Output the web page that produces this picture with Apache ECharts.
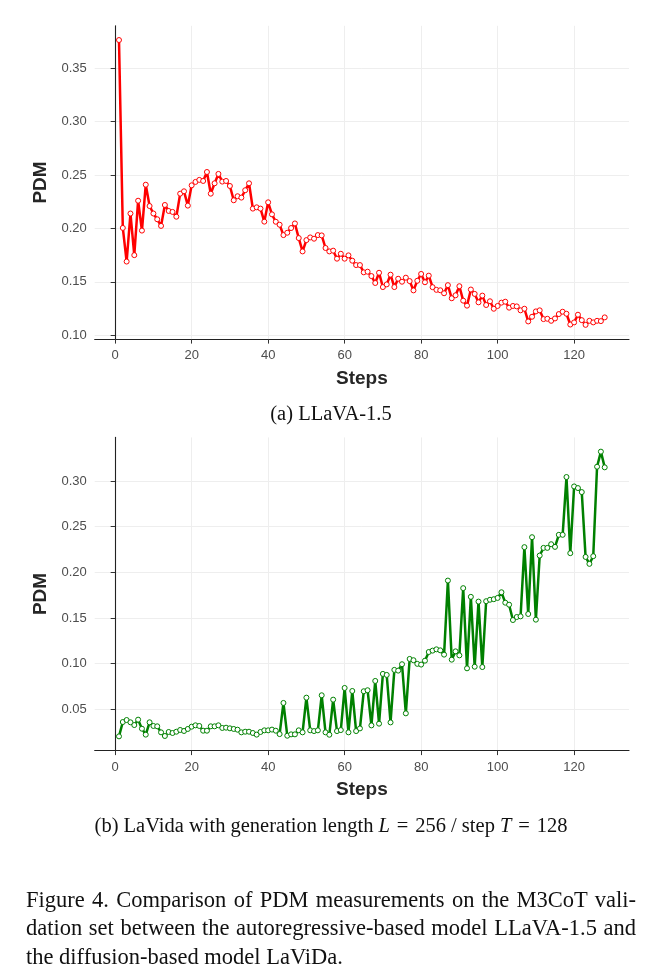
<!DOCTYPE html>
<html>
<head>
<meta charset="utf-8">
<script src="https://cdn.jsdelivr.net/npm/echarts@6/dist/echarts.min.js"></script>
<style>
  body { margin: 0; background: #fff; }
  #wrap { position: relative; width: 657px; height: 980px; }
  #main { position: absolute; left: 0; top: 0; width: 657px; height: 980px; }
  .cap { position: absolute; font-family: "Liberation Serif", "DejaVu Serif", serif; color: #111; white-space: nowrap; }
  .sub { left: 0; width: 662px; text-align: center; font-size: 20.5px; line-height: 20px; }
  .fig { left: 26px; width: 610px; font-size: 22.5px; line-height: 28.3px; }
  .fig div { text-align: justify; text-align-last: justify; }
  .fig div.last { text-align-last: left; }
</style>
</head>
<body>
<div id="wrap">
  <div id="main"></div>
  <div class="cap sub" style="top:403px;">(a) LLaVA-1.5</div>
  <div class="cap sub" style="top:815px;">(b) LaVida with generation length <i>L</i>&#8196;=&#8196;256 / step <i>T</i>&#8196;=&#8196;128</div>
  <div class="cap fig" style="top:886px;">
    <div>Figure 4. Comparison of PDM measurements on the M3CoT vali-</div>
    <div>dation set between the autoregressive-based model LLaVA-1.5 and</div>
    <div class="last">the diffusion-based model LaViDa.</div>
  </div>
</div>
<script>
// PDM per step
const llavaPdm = [
  0.3765, 0.2005, 0.169, 0.214, 0.175, 0.226, 0.198, 0.241, 0.221, 0.214,
  0.2086, 0.2024, 0.222, 0.2164, 0.2155, 0.211, 0.2326, 0.2348, 0.2214, 0.2404,
  0.2436, 0.2455, 0.2445, 0.2529, 0.2326, 0.2423, 0.2511, 0.2439, 0.2445, 0.2398,
  0.2264, 0.2302, 0.2289, 0.2358, 0.2423, 0.2186, 0.2198, 0.2186, 0.2064, 0.2245,
  0.2132, 0.2063, 0.2035, 0.1938, 0.196, 0.2004, 0.2047, 0.191, 0.1785, 0.1891,
  0.1916, 0.1904, 0.1938, 0.1935, 0.1817, 0.1785, 0.1792, 0.1717, 0.1763, 0.1717,
  0.1748, 0.1698, 0.1657, 0.1657, 0.1589, 0.1595, 0.1554, 0.1489, 0.1585, 0.1451,
  0.1476, 0.1567, 0.1451, 0.1529, 0.1501, 0.1539, 0.1507, 0.142, 0.151, 0.1574,
  0.1496, 0.1558, 0.145, 0.1425, 0.1421, 0.1393, 0.1469, 0.1346, 0.1374, 0.1459,
  0.1324, 0.1277, 0.1428, 0.1387, 0.1308, 0.1371, 0.1283, 0.1318, 0.1248, 0.1274,
  0.1305, 0.1314, 0.1258, 0.1274, 0.127, 0.1233, 0.1248, 0.1129, 0.1173, 0.1223,
  0.1233, 0.1151, 0.1154, 0.1135, 0.1157, 0.1198, 0.122, 0.1201, 0.11, 0.112,
  0.1192, 0.1141, 0.1097, 0.1135, 0.112, 0.1135, 0.1132, 0.1167
];
const lavidaPdm = [
  0.0204, 0.0361, 0.0383, 0.0358, 0.0328, 0.0387, 0.0288, 0.0223, 0.0358, 0.0318,
  0.0314, 0.0248, 0.0208, 0.0252, 0.0241, 0.0255, 0.0274, 0.0263, 0.0285, 0.031,
  0.0325, 0.0318, 0.0266, 0.0266, 0.0314, 0.0314, 0.0325, 0.0296, 0.0299, 0.0292,
  0.0285, 0.0277, 0.0248, 0.0255, 0.0255, 0.0241, 0.0223, 0.0252, 0.027, 0.027,
  0.0278, 0.0266, 0.0229, 0.057, 0.0211, 0.0226, 0.0226, 0.027, 0.0248, 0.0628,
  0.027, 0.0262, 0.027, 0.0654, 0.0248, 0.0222, 0.0606, 0.0262, 0.0273, 0.0734,
  0.0248, 0.0701, 0.0262, 0.0291, 0.0698, 0.0709, 0.0324, 0.0811, 0.0343, 0.0888,
  0.0877, 0.0357, 0.0932, 0.0924, 0.0994, 0.0456, 0.1052, 0.1038, 0.0998, 0.099,
  0.1033, 0.1128, 0.1143, 0.1157, 0.1146, 0.1099, 0.191, 0.1044, 0.1135, 0.1091,
  0.1827, 0.0949, 0.1732, 0.0967, 0.168, 0.0963, 0.1684, 0.170, 0.1706, 0.172,
  0.1782, 0.1668, 0.1646, 0.1478, 0.1511, 0.1518, 0.2276, 0.1544, 0.2385, 0.1482,
  0.2184, 0.2268, 0.2268, 0.2308, 0.2279, 0.2411, 0.2411, 0.3044, 0.221, 0.2941,
  0.2923, 0.2879, 0.2169, 0.2093, 0.2177, 0.3157, 0.3322, 0.315
];
const steps = llavaPdm.map((_, i) => i + 1);
const stepTicks = [0, 20, 40, 60, 80, 100, 120];
const llavaTicks = [0.10, 0.15, 0.20, 0.25, 0.30, 0.35];
const lavidaTicks = [0.05, 0.10, 0.15, 0.20, 0.25, 0.30];

// ggplot style 5% padding on both ends
function padded(arr) {
  const lo = Math.min(...arr), hi = Math.max(...arr);
  const pad = (hi - lo) * 0.05;
  return [lo - pad, hi + pad];
}
const xr = padded(steps);
const yTop = padded(llavaPdm);
const yBot = padded(lavidaPdm);

const sans = '"Liberation Sans", Arial, sans-serif';
const tickLabel = { color: '#4d4d4d', fontSize: 13, fontFamily: sans };
const grid = { color: '#eeeeee', width: 1 };
const axisLine = { show: true, lineStyle: { color: '#222', width: 1.1 } };
const titleText = { fontFamily: sans, fontWeight: 'bold', fontSize: 19, color: '#262626' };

function xAxis(gi) {
  return {
    type: 'value', gridIndex: gi, min: xr[0], max: xr[1],
    name: 'Steps', nameLocation: 'middle', nameGap: 30,
    nameTextStyle: titleText,
    axisLine: axisLine,
    axisTick: { show: true, length: 4.5, lineStyle: { color: '#333' }, customValues: stepTicks },
    axisLabel: Object.assign({ customValues: stepTicks, margin: 10, formatter: v => String(v) }, tickLabel),
    splitLine: { show: true, lineStyle: grid }
  };
}
function yAxis(gi, r, ticks) {
  return {
    type: 'value', gridIndex: gi, min: r[0], max: r[1],
    name: 'PDM', nameLocation: 'middle', nameGap: 44, nameRotate: 90,
    nameTextStyle: titleText,
    axisLine: axisLine,
    axisTick: { show: true, length: 4.5, lineStyle: { color: '#333' }, customValues: ticks },
    axisLabel: Object.assign({ customValues: ticks, margin: 8, formatter: v => v.toFixed(2) }, tickLabel),
    splitLine: { show: true, lineStyle: grid }
  };
}
function line(gi, values, color) {
  return {
    type: 'line', xAxisIndex: gi, yAxisIndex: gi,
    data: values.map((v, i) => [steps[i], v]),
    symbol: 'circle', symbolSize: 5,
    itemStyle: { color: '#fff', borderColor: color, borderWidth: 1 },
    lineStyle: { color: color, width: 2.5 },
    emphasis: { disabled: true }
  };
}

const chart = echarts.init(document.getElementById('main'));
chart.setOption({
  animation: false,
  grid: [
    { left: 94.7, top: 25.8, width: 534.3, height: 313.3 },
    { left: 94.7, top: 437.4, width: 534.3, height: 313.2 }
  ],
  xAxis: [xAxis(0), xAxis(1)],
  yAxis: [yAxis(0, yTop, llavaTicks), yAxis(1, yBot, lavidaTicks)],
  series: [line(0, llavaPdm, '#ff0000'), line(1, lavidaPdm, '#008000')]
});
</script>
</body>
</html>
